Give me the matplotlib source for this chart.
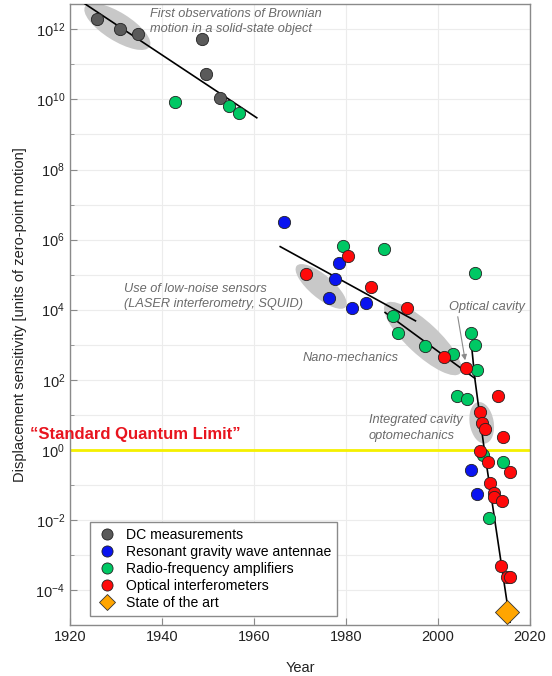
import numpy as np
import matplotlib
matplotlib.use("Agg")
import matplotlib.pyplot as plt
from matplotlib.patches import Ellipse
from matplotlib.lines import Line2D
import matplotlib.transforms as mtransforms

plt.rcParams['font.family'] = ['Liberation Sans', 'DejaVu Sans']
plt.rcParams['axes.unicode_minus'] = False

# --- data (year, displacement sensitivity) ---
dc_year = [1925.9, 1930.9, 1934.8, 1948.7, 1949.6, 1952.6]
dc_val = [2.0e12, 1.0e12, 7.4e11, 5.4e11, 5.5e10, 1.1e10]

gw_year = [1966.5, 1978.4, 1977.5, 1976.4, 1984.3, 1981.4, 2007.1, 2008.5]
gw_val = [3.1e6, 2.2e5, 7.6e4, 2.2e4, 1.6e4, 1.1e4, 0.27, 0.056]

rf_year = [1942.8, 1954.6, 1956.7, 1979.4, 1988.3, 1990.3, 1991.4, 1997.1, 2003.2,
           2008.1, 2007.1, 2008.1, 2008.4, 2004.2, 2006.2, 2009.8, 2014.1, 2011.1]
rf_val = [8.3e9, 6.5e9, 4.2e9, 6.5e5, 5.4e5, 6.8e3, 2.2e3, 9.1e2, 5.6e2,
          1.1e5, 2.2e3, 9.8e2, 1.9e2, 35, 29, 0.71, 0.45, 0.0115]

opt_year = [1980.4, 1971.4, 1985.4, 1993.3, 2001.2, 2006.1, 2013.0, 2009.1, 2009.6,
            2010.2, 2014.1, 2009.1, 2010.9, 2015.7, 2011.4, 2012.2, 2012.2, 2013.9,
            2013.8, 2015.1, 2015.7]
opt_val = [3.3e5, 1.07e5, 4.4e4, 1.1e4, 4.5e2, 2.2e2, 34, 12, 6.0,
           3.9, 2.3, 0.91, 0.45, 0.23, 0.115, 0.059, 0.046, 0.035,
           4.8e-4, 2.3e-4, 2.3e-4]

sota_year = [2015.1]
sota_val = [2.3e-5]

# trend lines
trend1_year = [1923.2, 1960.6]
trend1_val = [5.4e12, 3.0e9]
trend2_year = [1965.7, 1995.1]
trend2_val = [6.3e5, 4.8e3]
trend3_year = [1988.5, 2008.0]
trend3_val = [8.3e3, 1.1e2]
trend4_year = [2007.3, 2008.0, 2010.1, 2015.65]
trend4_val = [9.3e2, 1.1e2, 0.93, 1.2e-5]

# shaded regions: center year, center value, major px, minor px, angle
regions = [
    (1930.3, 1.2e12, 76, 28, -32),
    (1974.6, 4.6e4, 64, 23, -40),
    (1996.7, 1.5e3, 102, 32, -43),
    (2009.5, 5.9, 42, 24, -80),
]

sql_value = 1.0

colors = {
    'dc': '#5a5a5a',
    'gw': '#0a14f0',
    'rf': '#00c864',
    'opt': '#ff0a0a',
    'sota': '#ffa500',
}

fig = plt.figure(figsize=(5.52, 6.76), dpi=100)
ax = fig.add_axes([70 / 552, 51 / 676, 460 / 552, 621 / 676])
ax.set_yscale('log')
ax.set_xlim(1920, 2020)
ax.set_ylim(1.2e-5, 5.3e12)

# grid
ax.set_xticks([1920, 1940, 1960, 1980, 2000, 2020])
ax.set_yticks([10.0 ** k for k in range(-4, 13, 2)])
ax.set_yticks([10.0 ** k for k in range(-5, 13, 2)], minor=True)
ax.yaxis.set_minor_formatter(matplotlib.ticker.NullFormatter())
ax.grid(True, which='both', color='#ececec', lw=0.8, zorder=0)
ax.set_axisbelow(True)

for sp in ax.spines.values():
    sp.set_color('#8a8a8a')
    sp.set_linewidth(1.0)
ax.tick_params(axis='both', which='both', direction='in', color='#8a8a8a',
               labelsize=10.5, labelcolor='#222222')
ax.tick_params(which='major', length=5)
ax.tick_params(which='minor', length=3)

# ellipses (drawn in pixel size around a data point)
for cx, cy, w, h, ang in regions:
    trans = fig.dpi_scale_trans + mtransforms.ScaledTranslation(cx, cy, ax.transData)
    e = Ellipse((0, 0), w / 100, h / 100, angle=ang, transform=trans,
                facecolor='#c8c8c8', edgecolor='none', zorder=1)
    ax.add_patch(e)

# SQL line
ax.axhline(sql_value, color='#f5f000', lw=2, zorder=2)

# trend lines
for xs, ys in [(trend1_year, trend1_val), (trend2_year, trend2_val),
               (trend3_year, trend3_val), (trend4_year, trend4_val)]:
    ax.plot(xs, ys, color='black', lw=1.2, zorder=3)

ms = 78
ax.scatter(dc_year, dc_val, s=ms, c=colors['dc'], edgecolors='#222222', linewidths=0.6, zorder=4)
ax.scatter(gw_year, gw_val, s=ms, c=colors['gw'], edgecolors='#222222', linewidths=0.6, zorder=4)
ax.scatter(rf_year, rf_val, s=ms, c=colors['rf'], edgecolors='#222222', linewidths=0.6, zorder=4)
ax.scatter(opt_year, opt_val, s=ms, c=colors['opt'], edgecolors='#222222', linewidths=0.6, zorder=4)
ax.scatter(sota_year, sota_val, s=150, marker='D', c=colors['sota'], edgecolors='#333333',
           linewidths=0.6, zorder=5, clip_on=False)

# annotations
note = dict(color='#6a6a6a', style='italic', fontsize=9.2, linespacing=1.35)
ax.text(1937.4, 1.7e12, "First observations of Brownian\nmotion in a solid-state object",
        va='center', ha='left', **note)
ax.text(1931.7, 2.4e4, "Use of low-noise sensors\n(LASER interferometry, SQUID)",
        va='center', ha='left', **note)
ax.text(1970.65, 4.1e2, "Nano-mechanics", va='center', ha='left', **note)
ax.text(2002.4, 1.2e4, "Optical cavity", va='center', ha='left', **note)
ax.text(1985.0, 4.2, "Integrated cavity\noptomechanics", va='center', ha='left', **note)
ax.annotate("", xy=(2005.9, 3.6e2), xytext=(2004.3, 6.3e3),
            arrowprops=dict(arrowstyle='-|>', color='#8a8a8a', lw=0.8,
                            mutation_scale=8, shrinkA=0, shrinkB=0))

ax.text(1911.3, 2.7, "\u201cStandard Quantum Limit\u201d", color='#e8141e',
        fontsize=12, fontweight='bold', va='center', ha='left', clip_on=False)

ax.set_xlabel("Year", fontsize=10.5, labelpad=12, color='#222222')
ax.set_ylabel("Displacement sensitivity [units of zero-point motion]", fontsize=10.5,
              labelpad=6, color='#222222')

handles = [
    Line2D([], [], ls='none', marker='o', ms=8, mfc=colors['dc'], mec='#222222', mew=0.6),
    Line2D([], [], ls='none', marker='o', ms=8, mfc=colors['gw'], mec='#222222', mew=0.6),
    Line2D([], [], ls='none', marker='o', ms=8, mfc=colors['rf'], mec='#222222', mew=0.6),
    Line2D([], [], ls='none', marker='o', ms=8, mfc=colors['opt'], mec='#222222', mew=0.6),
    Line2D([], [], ls='none', marker='D', ms=8, mfc=colors['sota'], mec='#333333', mew=0.6),
]
labels = ["DC measurements", "Resonant gravity wave antennae", "Radio-frequency amplifiers",
          "Optical interferometers", "State of the art"]
leg = ax.legend(handles, labels, loc='lower left', bbox_to_anchor=(0.0435, 0.0145),
                borderaxespad=0, fancybox=False, framealpha=1, edgecolor='#8a8a8a',
                fontsize=10.1, handletextpad=0.6, labelspacing=0.22, borderpad=0.4,
                handlelength=1.6)
leg.get_frame().set_linewidth(1.0)
leg.set_zorder(6)

fig.savefig("out.png", dpi=100)
